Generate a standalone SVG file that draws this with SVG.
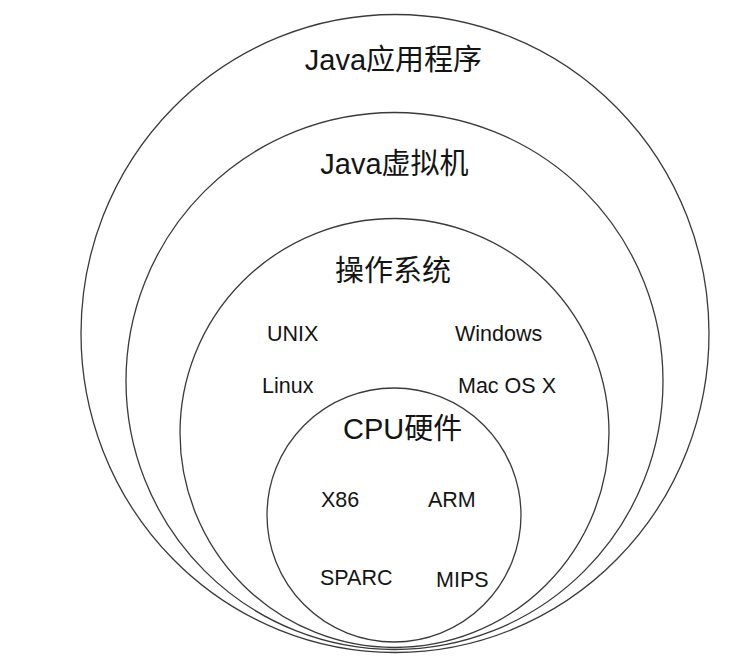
<svg xmlns="http://www.w3.org/2000/svg" width="754" height="658" viewBox="0 0 754 658">
<style>
.ring{fill:none;stroke:#3a3a3a;stroke-width:1.3}
.big{font-family:"Liberation Sans","Noto Sans CJK SC",sans-serif;font-size:29px;fill:#141414}
.small{font-family:"Liberation Sans","Noto Sans CJK SC",sans-serif;font-size:21.5px;fill:#141414}
</style>
<rect width="754" height="658" fill="#ffffff"/>
<g id="java-app">
<ellipse class="ring" cx="395" cy="333.5" rx="314" ry="319"/>
<text class="big" x="393.5" y="70" text-anchor="middle">Java应用程序</text>
</g>
<g id="jvm">
<circle class="ring" cx="394.5" cy="381" r="268.5"/>
<text class="big" x="394.5" y="174" text-anchor="middle">Java虚拟机</text>
</g>
<g id="os">
<circle class="ring" cx="394.5" cy="433" r="214.5"/>
<text class="big" x="393" y="281" text-anchor="middle">操作系统</text>
<text class="small" x="267" y="341">UNIX</text>
<text class="small" x="455" y="341">Windows</text>
<text class="small" x="262" y="393">Linux</text>
<text class="small" x="458" y="393">Mac OS X</text>
</g>
<g id="cpu">
<circle class="ring" cx="394" cy="515" r="127"/>
<text class="big" x="343" y="439">CPU硬件</text>
<text class="small" x="321" y="507">X86</text>
<text class="small" x="428" y="507">ARM</text>
<text class="small" x="320" y="585">SPARC</text>
<text class="small" x="436" y="587">MIPS</text>
</g>
<g id="connectors"></g>
</svg>
